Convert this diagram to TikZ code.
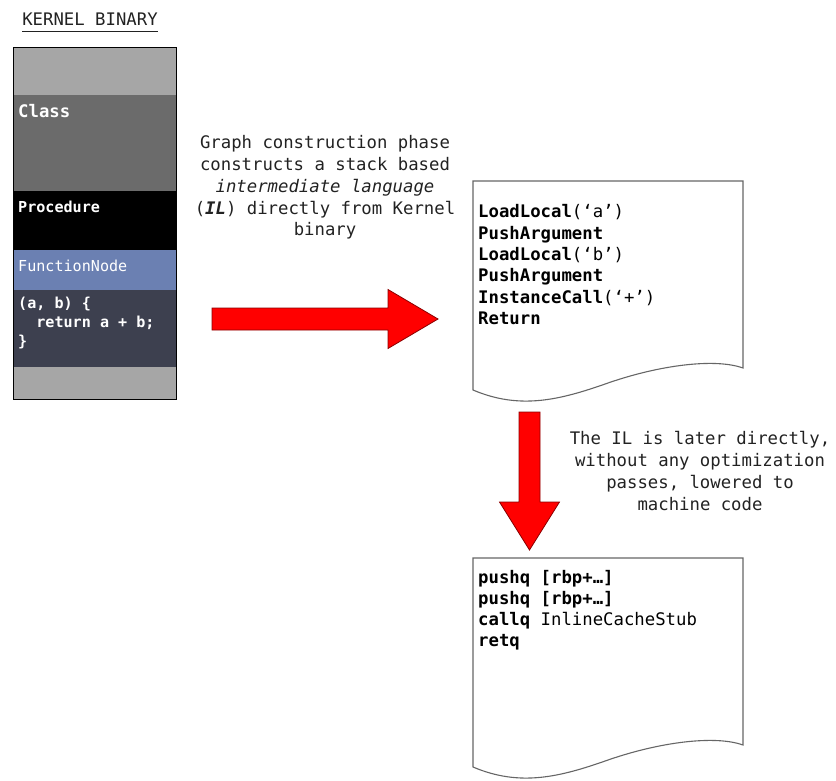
\documentclass[tikz,border=0pt]{standalone}
\usepackage{fontspec}
\setmainfont{DejaVu Sans Mono}
\setmonofont{DejaVu Sans Mono}
\usetikzlibrary{calc}
\definecolor{lgray}{HTML}{A6A6A6}
\definecolor{cgray}{HTML}{6B6B6B}
\definecolor{fnblue}{HTML}{6B80B2}
\definecolor{codeslate}{HTML}{3D404F}
\definecolor{docline}{HTML}{666666}
\definecolor{arrred}{HTML}{FF0000}
\definecolor{arredge}{HTML}{8A0000}
\definecolor{txt}{HTML}{222222}
\tikzset{
  bigfont/.style={font=\fontsize{17.3}{21.5}\selectfont\ttfamily},
  smallfont/.style={font=\fontsize{15.1}{19}\selectfont\ttfamily\bfseries},
  codeline/.style={bigfont, anchor=base west, inner sep=0pt, text=black},
  noteline/.style={bigfont, anchor=base, inner sep=0pt, text=txt},
  kerneltext/.style={smallfont, anchor=base west, inner sep=0pt, text=white},
  docshape/.style={draw=docline, fill=white, line width=1.1pt},
  bigarrow/.style={draw=arredge, fill=arrred, line width=0.8pt, line join=miter},
}
\newcommand{\docoutline}{(473,181) -- (743,181) -- (743,368)
  .. controls (715,358) and (660,365) .. (608,383)
  .. controls (560,400) and (520,410) .. (473,390) -- cycle}
\begin{document}
\begin{tikzpicture}[x=1pt,y=-1pt]
\useasboundingbox (0,0) rectangle (836,781);

% ---------- Kernel binary ----------
\node[bigfont, anchor=base, inner sep=0pt, text=txt] (title) at (90,26) {KERNEL BINARY};
\draw[txt, line width=0.8pt] ([yshift=-5pt]title.base west) -- ([yshift=-5pt]title.base east);

\fill[lgray]     (13,47)  rectangle (176,95);
\fill[cgray]     (13,95)  rectangle (176,191);
\fill[black]     (13,191) rectangle (176,250);
\fill[fnblue]    (13,250) rectangle (176,290);
\fill[codeslate] (13,290) rectangle (176,367);
\fill[lgray]     (13,367) rectangle (176,399);
\draw[black, line width=0.8pt] (13,47) rectangle (176,399);

\node[bigfont, anchor=base west, inner sep=0pt, text=white, font=\fontsize{17.3}{21.5}\selectfont\ttfamily\bfseries] (kclass) at (18,118) {Class};
\node[kerneltext] (kproc) at (18,212) {Procedure};
\node[kerneltext, font=\fontsize{15.1}{19}\selectfont\ttfamily] (kfn) at (18,271) {FunctionNode};
\node[kerneltext] (kc1) at (18,308) {(a, b) \{};
\node[kerneltext] (kc2) at (18,327) {\ \ return a + b;};
\node[kerneltext] (kc3) at (18,346) {\}};

% ---------- first note ----------
\node[noteline] (n1a) at (325,149) {Graph construction phase};
\node[noteline] (n1b) at (325,170.7) {constructs a stack based};
\node[noteline] (n1c) at (325,192.4) {\itshape intermediate language};
\node[noteline] (n1d) at (325,214.1) {(\textbf{\itshape IL}) directly from Kernel};
\node[noteline] (n1e) at (325,235.8) {binary};

% ---------- IL document ----------
\draw[docshape] \docoutline;
\node[codeline] (il1) at (478,218)   {\textbf{LoadLocal}(‘a’)};
\node[codeline] (il2) at (478,239.3) {\textbf{PushArgument}};
\node[codeline] (il3) at (478,260.6) {\textbf{LoadLocal}(‘b’)};
\node[codeline] (il4) at (478,281.9) {\textbf{PushArgument}};
\node[codeline] (il5) at (478,303.2) {\textbf{InstanceCall}(‘+’)};
\node[codeline] (il6) at (478,324.5) {\textbf{Return}};

% ---------- machine code document ----------
\begin{scope}[shift={(0,377)}]
\draw[docshape] \docoutline;
\end{scope}
\node[codeline] (mc1) at (478,583) {\textbf{pushq [rbp+…]}};
\node[codeline] (mc2) at (478,604) {\textbf{pushq [rbp+…]}};
\node[codeline] (mc3) at (478,625) {\textbf{callq} InlineCacheStub};
\node[codeline] (mc4) at (478,646) {\textbf{retq}};

% ---------- second note ----------
\node[noteline] (n2a) at (700,444)   {The IL is later directly,};
\node[noteline] (n2b) at (700,466)   {without any optimization};
\node[noteline] (n2c) at (700,488)   {passes, lowered to};
\node[noteline] (n2d) at (700,510)   {machine code};

% ---------- block arrows ----------
\coordinate (r1) at (212,319);
\coordinate (r2) at (438,319);
\draw[bigarrow] ($(r1)+(0,-11)$) -- ($(r2)+(-50,-11)$) -- ($(r2)+(-50,-29.5)$)
  -- (r2) -- ($(r2)+(-50,29.5)$) -- ($(r2)+(-50,11)$) -- ($(r1)+(0,11)$) -- cycle;

\coordinate (d1) at (529.5,412);
\coordinate (d2) at (529.5,550);
\draw[bigarrow] ($(d1)+(-10.5,0)$) -- ($(d2)+(-10.5,-48)$) -- ($(d2)+(-30,-48)$)
  -- (d2) -- ($(d2)+(30,-48)$) -- ($(d2)+(10.5,-48)$) -- ($(d1)+(10.5,0)$) -- cycle;
\end{tikzpicture}
\end{document}
